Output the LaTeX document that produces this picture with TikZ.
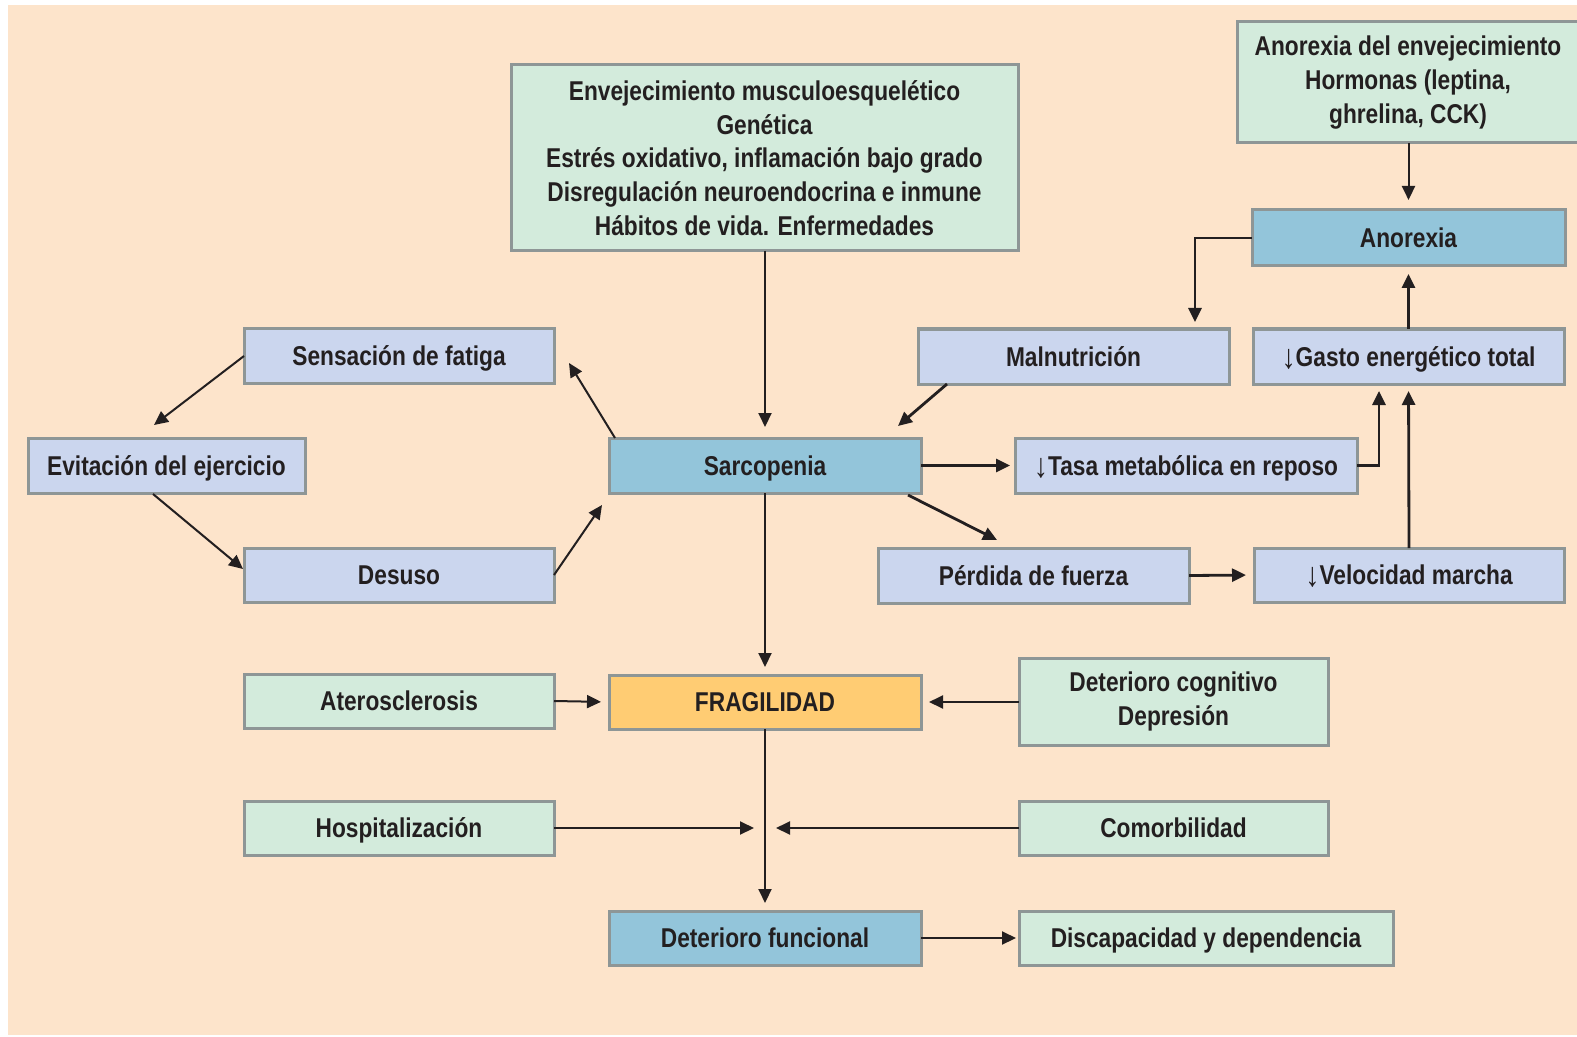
\documentclass[tikz,border=0pt]{standalone}
\usepackage{fontspec}
\setmainfont{Liberation Sans}[FakeStretch=0.835,UprightFont=*,BoldFont=* Bold]
\usetikzlibrary{arrows.meta,calc}
\definecolor{bgpeach}{HTML}{FDE4CB}
\definecolor{boxgreen}{HTML}{D3EBDC}
\definecolor{boxlav}{HTML}{CBD6EE}
\definecolor{boxblue}{HTML}{93C5DA}
\definecolor{boxorange}{HTML}{FFCC73}
\definecolor{boxedge}{HTML}{8E9696}
\definecolor{ink}{HTML}{231F20}
% box given by its corners (x1,y1) and (x2,y2), in pixel units
\newcommand\boxat[7]{%
  \node[#6, minimum width={(#4-#2)*0.5pt}, minimum height={(#5-#3)*0.5pt}]
    (#1) at ({(#2+#4)/2},{(#3+#5)/2}) {#7};}
% "decrease" arrow set in front of a label
\newcommand\dnarrow{\raisebox{-1.2pt}{\fontsize{17}{17}\selectfont\mdseries↓}}
\begin{document}
\begin{tikzpicture}[x=0.5pt,y=-0.5pt,
  base/.style={draw=boxedge, line width=1.5pt, inner sep=0pt, outer sep=0pt,
    align=center, text=ink, font=\fontsize{13.6}{16.9}\selectfont\bfseries},
  one/.style={text height=12pt, text depth=2.5pt},
  gbox/.style={base, fill=boxgreen},
  lbox/.style={base, fill=boxlav},
  bbox/.style={base, fill=boxblue},
  obox/.style={base, fill=boxorange},
  thin/.style={draw=ink, line width=1pt, -{Triangle[length=7pt,width=6.5pt]}},
  thick/.style={draw=ink, line width=1.4pt, -{Triangle[length=7pt,width=6.5pt]}}
]
\useasboundingbox (0,0) rectangle (1577,1037);
\clip (0,0) rectangle (1577,1037);
\fill[white] (0,0) rectangle (1577,1037);
\fill[bgpeach] (8,5) rectangle (1577,1035);

% boxes
\boxat{top}{511}{65}{1018}{251}{gbox}{Envejecimiento musculoesquelético\\Genética\\Estrés oxidativo, inflamación bajo grado\\Disregulación neuroendocrina e inmune\\Hábitos de vida. Enfermedades}
\boxat{anorexenv}{1237}{22}{1579}{143}{gbox}{Anorexia del envejecimiento\\Hormonas (leptina,\\ghrelina, CCK)}
\boxat{anorexia}{1252}{210}{1565}{266}{bbox,one}{Anorexia}
\boxat{maln}{918}{329}{1229}{384}{lbox,one}{Malnutrición}
\boxat{gasto}{1253}{329}{1564}{384}{lbox,one}{\dnarrow Gasto energético total}
\boxat{fatiga}{244}{329}{554}{383}{lbox,one}{Sensación de fatiga}
\boxat{evit}{28}{438}{305}{493}{lbox,one}{Evitación del ejercicio}
\boxat{sarc}{609}{438}{921}{493}{bbox,one}{Sarcopenia}
\boxat{tasa}{1015}{438}{1357}{493}{lbox,one}{\dnarrow Tasa metabólica en reposo}
\boxat{desuso}{244}{548}{554}{602}{lbox,one}{Desuso}
\boxat{perdida}{878}{548}{1189}{603}{lbox,one}{Pérdida de fuerza}
\boxat{veloc}{1254}{548}{1564}{602}{lbox,one}{\dnarrow Velocidad marcha}
\boxat{ateros}{244}{674}{554}{728}{gbox,one}{Aterosclerosis}
\boxat{frag}{609}{675}{921}{729}{obox,one}{FRAGILIDAD}
\boxat{cogn}{1019}{658}{1328}{745}{gbox}{Deterioro cognitivo\\Depresión}
\boxat{hosp}{244}{801}{554}{855}{gbox,one}{Hospitalización}
\boxat{comorb}{1019}{801}{1328}{855}{gbox,one}{Comorbilidad}
\boxat{detfun}{609}{911}{921}{965}{bbox,one}{Deterioro funcional}
\boxat{discap}{1019}{911}{1393}{965}{gbox,one}{Discapacidad y dependencia}

% central column
\draw[thin, shorten >=5.5pt] (top.south -| sarc.north) -- (sarc.north);
\draw[thin, shorten >=4pt] (sarc.south) -- (frag.north);
\draw[thin, shorten >=4pt] (frag.south) -- (detfun.north);
\coordinate (merge) at (frag.south |- hosp.east);
\draw[thin, shorten >=5.5pt] (hosp.east) -- (merge);
\draw[thin, shorten >=5.5pt] (comorb.west) -- (merge);
\draw[thin, shorten >=4pt] (ateros.east) -- (frag.west);
\draw[thin, shorten >=4pt] (cogn.west |- frag.east) -- (frag.east);
\draw[thin, shorten >=1.5pt] (detfun.east) -- (discap.west);

% right-hand loop
\draw[thick, shorten >=2.5pt] (sarc.east |- tasa.west) -- (tasa.west);
\draw[thick] ($(sarc.south east)+(-13,2)$) -- ($(perdida.north west)+(119,-8)$);
\draw[thick, shorten >=4pt] (perdida.east) -- (veloc.west);
\coordinate (tasaup) at ($(gasto.south)+(-29.5,0)$);
\draw[thick, shorten >=3.5pt] (tasa.east) -| (tasaup);
\draw[thick, shorten >=3.5pt] (veloc.north) -- (gasto.south);
\draw[thick, shorten >=4pt] (gasto.north) -- (anorexia.south);
\draw[thin, shorten >=5pt] (anorexenv.south -| anorexia.north) -- (anorexia.north);
\coordinate (malntop) at ($(maln.north east)+(-34,0)$);
\draw[thick, shorten >=3.5pt] (anorexia.west) -| (malntop);
\draw[thick] ($(maln.south west)+(29,0)$) -- ($(sarc.north east)+(-23,-12)$);

% left-hand loop
\draw[thin] ($(sarc.north west)+(6,0)$) -- ($(fatiga.south east)+(15,-20)$);
\draw[thin] (fatiga.west) -- ($(evit.north west)+(126,-13)$);
\draw[thin] ($(evit.south west)+(125,1)$) -- ($(desuso.west)+(-1,-6)$);
\draw[thin] (desuso.east) -- ($(sarc.south west)+(-7,12)$);
\end{tikzpicture}
\end{document}
